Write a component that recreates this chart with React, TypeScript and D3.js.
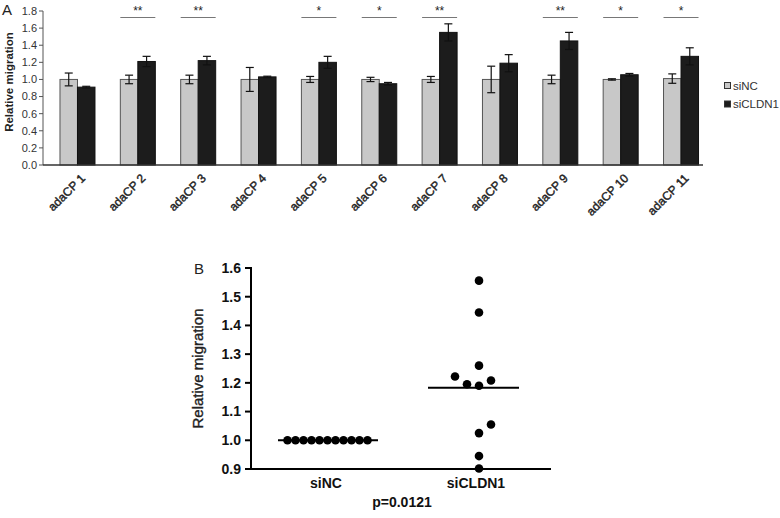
import React from "react";
import * as d3 from "d3";

// panel A: relative migration per adaCP line
const categories = ["adaCP 1", "adaCP 2", "adaCP 3", "adaCP 4", "adaCP 5", "adaCP 6", "adaCP 7", "adaCP 8", "adaCP 9", "adaCP 10", "adaCP 11"];
const siNC = [1.0, 1.0, 1.0, 1.0, 1.0, 1.0, 1.0, 1.0, 1.0, 1.0, 1.01];
const siNCErr = [0.075, 0.05, 0.05, 0.14, 0.035, 0.025, 0.035, 0.155, 0.05, 0.008, 0.055];
const siCLDN1 = [0.91, 1.21, 1.22, 1.03, 1.2, 0.95, 1.55, 1.19, 1.45, 1.055, 1.27];
const siCLDN1Err = [0.01, 0.06, 0.05, 0.008, 0.07, 0.015, 0.1, 0.1, 0.1, 0.015, 0.1];
const stars = ["", "**", "**", "", "*", "*", "**", "", "**", "*", "*"];
const yTicksA = [0, 0.2, 0.4, 0.6, 0.8, 1.0, 1.2, 1.4, 1.6, 1.8];

// panel B: per-line values
const groupsB = ["siNC", "siCLDN1"];
const pointsNC = [1, 1, 1, 1, 1, 1, 1, 1, 1, 1, 1];
const slotsNC = [-5, -4, -3, -2, -1, 0, 1, 2, 3, 4, 5];
const pointsCLDN1 = [1.556, 1.445, 1.26, 1.222, 1.195, 1.19, 1.208, 1.055, 1.025, 0.945, 0.902];
const slotsCLDN1 = [0, 0, 0, -2, -1, 0, 1, 1, 0, 0, 0];
const yTicksB = [0.9, 1.0, 1.1, 1.2, 1.3, 1.4, 1.5, 1.6];
const meanNC = 1.0;
const meanCLDN1 = 1.183;

const FONT = "'Liberation Sans', Arial, sans-serif";

const App: React.FC = () => {
  // ---- panel A scales
  const xA = d3.scaleBand<string>().domain(categories).range([47.3, 711.2]).padding(0);
  const yA = d3.scaleLinear().domain([0, 1.8]).range([165, 11]);
  const barW = 17.5;
  const axisLeftA = 43;
  const axisRightA = 703;

  // ---- panel B scales
  const xB = d3.scaleBand<string>().domain(groupsB).range([251, 551]).padding(0);
  const yB = d3.scaleLinear().domain([0.9, 1.6]).range([469, 268]);
  const cNC = (xB("siNC") ?? 0) + xB.bandwidth() / 2;
  const cCL = (xB("siCLDN1") ?? 0) + xB.bandwidth() / 2;

  return (
    <svg width={780} height={518} style={{ position: "absolute", left: 0, top: 0, background: "#fff" }} fontFamily={FONT}>
      {/* ===== Panel A ===== */}
      <text x={2} y={15} fontSize={15} fill="#222">A</text>
      <text transform={`translate(13,82) rotate(-90)`} textAnchor="middle" fontSize={11.5} fontWeight="bold" fill="#222">
        Relative migration
      </text>

      {yTicksA.map((t) => (
        <g key={t}>
          <line x1={axisLeftA - 4} x2={axisLeftA} y1={yA(t)} y2={yA(t)} stroke="#555" />
          <text x={axisLeftA - 6} y={yA(t)} dy="0.35em" textAnchor="end" fontSize={11} fill="#333">
            {d3.format(".1f")(t)}
          </text>
        </g>
      ))}
      <line x1={axisLeftA} x2={axisLeftA} y1={yA(1.8)} y2={yA(0)} stroke="#555" />

      {categories.map((c, i) => {
        const cx = (xA(c) ?? 0) + xA.bandwidth() / 2;
        const x0 = cx - barW;
        const x1 = cx;
        return (
          <g key={c}>
            <rect x={x0} y={yA(siNC[i])} width={barW} height={yA(0) - yA(siNC[i])} fill="#c8c8c8" stroke="#555" strokeWidth={1} />
            <rect x={x1} y={yA(siCLDN1[i])} width={barW} height={yA(0) - yA(siCLDN1[i])} fill="#1c1c1c" stroke="#111" strokeWidth={1} />
            {[
              { x: x0 + barW / 2, v: siNC[i], e: siNCErr[i] },
              { x: x1 + barW / 2, v: siCLDN1[i], e: siCLDN1Err[i] },
            ].map((b, k) => (
              <g key={k} stroke="#111" strokeWidth={1.2}>
                <line x1={b.x} x2={b.x} y1={yA(b.v + b.e)} y2={yA(b.v - b.e)} />
                <line x1={b.x - 4} x2={b.x + 4} y1={yA(b.v + b.e)} y2={yA(b.v + b.e)} />
                <line x1={b.x - 4} x2={b.x + 4} y1={yA(b.v - b.e)} y2={yA(b.v - b.e)} />
              </g>
            ))}
            {stars[i] && (
              <g>
                <line x1={x0} x2={x1 + barW} y1={17.5} y2={17.5} stroke="#777" strokeWidth={1} />
                <text x={cx} y={15} textAnchor="middle" fontSize={12} fill="#222">
                  {stars[i]}
                </text>
              </g>
            )}
            <text
              transform={`translate(${cx + 8.5},${179}) rotate(-45)`}
              textAnchor="end"
              fontSize={12}
              fill="#222"
              stroke="#222"
              strokeWidth={0.4}
            >
              {c}
            </text>
          </g>
        );
      })}
      <line x1={axisLeftA} x2={axisRightA} y1={yA(0)} y2={yA(0)} stroke="#333" strokeWidth={1.5} />

      {/* legend */}
      {[
        { label: "siNC", fill: "#c8c8c8", y: 85.5 },
        { label: "siCLDN1", fill: "#1c1c1c", y: 104 },
      ].map((l) => (
        <g key={l.label}>
          <rect x={724.5} y={l.y - 3} width={6} height={6} fill={l.fill} stroke="#333" strokeWidth={1} />
          <text x={733} y={l.y} dy="0.35em" fontSize={11.5} fill="#333">
            {l.label}
          </text>
        </g>
      ))}

      {/* ===== Panel B ===== */}
      <text x={194} y={274} fontSize={15} fill="#222">B</text>
      <text transform={`translate(203,${yB(1.25)}) rotate(-90)`} textAnchor="middle" fontSize={15} fill="#222" stroke="#222" strokeWidth={0.35}>
        Relative migration
      </text>
      {yTicksB.map((t) => (
        <g key={t}>
          <line x1={245} x2={251} y1={yB(t)} y2={yB(t)} stroke="#000" strokeWidth={2} />
          <text x={241} y={yB(t)} dy="0.35em" textAnchor="end" fontSize={14} fontWeight="bold" fill="#111">
            {d3.format(".1f")(t)}
          </text>
        </g>
      ))}
      <line x1={251} x2={251} y1={yB(1.6) - 1} y2={yB(0.9) + 1} stroke="#000" strokeWidth={2} />
      <line x1={250} x2={551} y1={yB(0.9)} y2={yB(0.9)} stroke="#000" strokeWidth={2} />

      {groupsB.map((g) => (
        <text key={g} x={(xB(g) ?? 0) + xB.bandwidth() / 2} y={488} textAnchor="middle" fontSize={14} fontWeight="bold" fill="#111">
          {g}
        </text>
      ))}
      <text x={402} y={507} textAnchor="middle" fontSize={14} fontWeight="bold" fill="#111">
        p=0.0121
      </text>

      {pointsNC.map((v, i) => (
        <circle key={`nc${i}`} cx={cNC + 1.5 + slotsNC[i] * 8} cy={yB(v)} r={4.3} fill="#000" />
      ))}
      {pointsCLDN1.map((v, i) => (
        <circle key={`cl${i}`} cx={cCL + 3 + slotsCLDN1[i] * 12} cy={yB(v)} r={4.3} fill="#000" />
      ))}
      <line x1={cNC - 48} x2={cNC + 52} y1={yB(meanNC)} y2={yB(meanNC)} stroke="#000" strokeWidth={2} />
      <line x1={cCL - 48} x2={cCL + 43} y1={yB(meanCLDN1)} y2={yB(meanCLDN1)} stroke="#000" strokeWidth={2} />
    </svg>
  );
};

export default App;
